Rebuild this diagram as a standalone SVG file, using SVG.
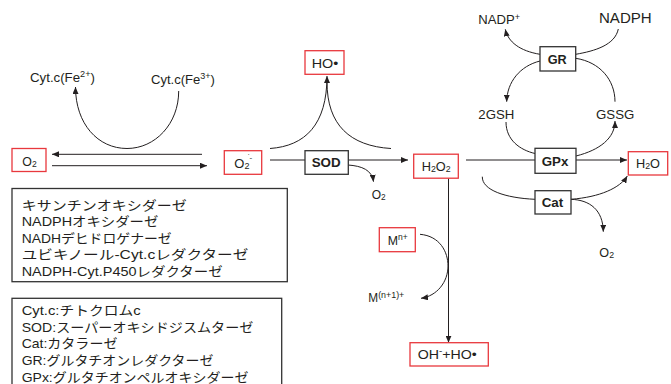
<svg xmlns="http://www.w3.org/2000/svg" width="671" height="384" viewBox="0 0 671 384">
  <defs>
    <style>
      .t { font-family: "Liberation Sans", "Noto Sans CJK JP", sans-serif; font-size: 13px; fill: #231f20; }
      .b { font-weight: bold; }
      .red { fill: #fff; stroke: #e8383d; stroke-width: 1.3; }
      .blk { fill: #fff; stroke: #333; stroke-width: 1.3; }
      .ln { fill: none; stroke: #231f20; stroke-width: 1; }
      .arr { marker-end: url(#ah); }
    </style>
    <marker id="ah" markerUnits="userSpaceOnUse" markerWidth="8" markerHeight="6" refX="7" refY="3" orient="auto">
      <path d="M0,0 L7,3 L0,6 z" fill="#231f20"/>
    </marker>
  </defs>
  <rect width="671" height="384" fill="#fff"/>

  <!-- connectors -->
  <g id="connectors">
    <!-- O2 <-> O2- -->
    <path class="ln arr" d="M202,154.3 H52"/>
    <path class="ln arr" d="M52,165.7 H207"/>
    <!-- cytochrome c loop -->
    <path class="ln arr" d="M178.7,91 C178.7,124 155,148.5 127,148.5 C98,148.5 75.5,124 75.5,87"/>
    <!-- O2- / H2O2 to HO. -->
    <path class="ln arr" d="M270,148.5 C305,146 327,125 327,76"/>
    <path class="ln" d="M391,148.5 C350,146 327,125 327,82"/>
    <!-- SOD -->
    <path class="ln" d="M270,160 H305"/>
    <path class="ln arr" d="M348,160 H408"/>
    <path class="ln arr" d="M348,165 C362,166 372,170 373.5,181.7"/>
    <!-- H2O2 -> GPx -> H2O -->
    <path class="ln" d="M466,160 H535"/>
    <path class="ln arr" d="M576,160 H627"/>
    <!-- glutathione cycle -->
    <path class="ln" d="M506,122 C506,140 520,150 535,153.5"/>
    <path class="ln arr" d="M576,156 C600,150 615,138 615,121"/>
    <path class="ln" d="M615,101.7 C615,80 600,62 575.7,58.3"/>
    <path class="ln arr" d="M540,61 C520,66 507,82 506.7,101.7"/>
    <path class="ln" d="M618.3,29 C615,45 595,51 575.7,54.3"/>
    <path class="ln arr" d="M540,54.3 C520,51 508,42 505.3,29.3"/>
    <!-- catalase -->
    <path class="ln" d="M482.3,176.7 C482,190 505,198 535,199.3"/>
    <path class="ln arr" d="M571,199.3 C600,197 620,188 627.3,176"/>
    <path class="ln arr" d="M571,199.3 C590,200 603,210 603.3,231.7"/>
    <!-- Fenton -->
    <path class="ln arr" d="M448.5,178.3 V342.7"/>
    <path class="ln arr" d="M420,234.3 C440,236 448,252 448,266 C448,282 437,296 421,298.3"/>
  </g>

  <!-- labels without frames -->
  <g id="cytc-red">
    <text class="t" x="30" y="82" textLength="65" lengthAdjust="spacingAndGlyphs">Cyt.c(Fe<tspan font-size="9" dy="-5">2+</tspan><tspan dy="5">)</tspan></text>
  </g>
  <g id="cytc-ox">
    <text class="t" x="151" y="84" textLength="64" lengthAdjust="spacingAndGlyphs">Cyt.c(Fe<tspan font-size="9" dy="-5">3+</tspan><tspan dy="5">)</tspan></text>
  </g>
  <g id="nadp">
    <text class="t" x="478.3" y="24" textLength="41.7" lengthAdjust="spacingAndGlyphs">NADP<tspan font-size="9" dy="-4">+</tspan></text>
  </g>
  <g id="nadph">
    <text class="t" x="599" y="23.3" style="font-size:15px" textLength="52.7" lengthAdjust="spacingAndGlyphs">NADPH</text>
  </g>
  <g id="gsh">
    <text class="t" x="478.3" y="119" textLength="36" lengthAdjust="spacingAndGlyphs">2GSH</text>
  </g>
  <g id="gssg">
    <text class="t" x="596" y="119" textLength="38.3" lengthAdjust="spacingAndGlyphs">GSSG</text>
  </g>
  <g id="o2-sod">
    <text class="t" x="371.7" y="199.3" style="font-size:13px" textLength="14" lengthAdjust="spacingAndGlyphs">O<tspan font-size="9" dy="1">2</tspan></text>
  </g>
  <g id="o2-cat">
    <text class="t" x="599.3" y="256.7" style="font-size:13px" textLength="14.7" lengthAdjust="spacingAndGlyphs">O<tspan font-size="9" dy="1">2</tspan></text>
  </g>
  <g id="m-ox">
    <text class="t" x="368.3" y="301.7" style="font-size:12px" textLength="36" lengthAdjust="spacingAndGlyphs">M<tspan font-size="9" dy="-4">(n+1)+</tspan></text>
  </g>

  <!-- species -->
  <g id="o2">
    <rect class="red" x="12" y="148.5" width="34" height="23"/>
    <text class="t" x="22.3" y="166" textLength="14.4" lengthAdjust="spacingAndGlyphs">O<tspan font-size="9" dy="1">2</tspan></text>
  </g>
  <g id="superoxide">
    <rect class="red" x="224.3" y="150.7" width="37.4" height="23.6"/>
    <text class="t" x="234.3" y="167.5">O<tspan font-size="9" dy="1">2</tspan><tspan font-size="8" dy="-9">-</tspan><tspan font-size="7" dx="-4.5" dy="-2.5">·</tspan></text>
  </g>
  <g id="hydroxyl">
    <rect class="red" x="305" y="50.7" width="39" height="23.6"/>
    <text class="t" x="311.7" y="68.3" textLength="26.6" lengthAdjust="spacingAndGlyphs">HO•</text>
  </g>
  <g id="h2o2">
    <rect class="red" x="413.7" y="154.2" width="44.6" height="24"/>
    <text class="t" x="421.7" y="170.5" textLength="29" lengthAdjust="spacingAndGlyphs">H<tspan font-size="9" dy="1">2</tspan><tspan dy="-1">O</tspan><tspan font-size="9" dy="1">2</tspan></text>
  </g>
  <g id="h2o">
    <rect class="red" x="628.3" y="151.7" width="39.4" height="23.3"/>
    <text class="t" x="636" y="167.5" textLength="24" lengthAdjust="spacingAndGlyphs">H<tspan font-size="9" dy="1">2</tspan><tspan dy="-1">O</tspan></text>
  </g>
  <g id="metal">
    <rect class="red" x="379.3" y="227.7" width="36" height="24"/>
    <text class="t" x="387.7" y="245" textLength="20" lengthAdjust="spacingAndGlyphs">M<tspan font-size="9" dy="-5">n+</tspan></text>
  </g>
  <g id="products">
    <rect class="red" x="410" y="342.7" width="78.3" height="23.3"/>
    <text class="t" x="417.7" y="359.3" textLength="59" lengthAdjust="spacingAndGlyphs">OH<tspan font-size="9" dy="-5">-</tspan><tspan dy="5">+HO•</tspan></text>
  </g>

  <!-- enzymes -->
  <g id="sod">
    <rect class="blk" x="305" y="150.7" width="43.3" height="23.6"/>
    <text class="t b" x="311.7" y="167.3" textLength="29" lengthAdjust="spacingAndGlyphs">SOD</text>
  </g>
  <g id="gpx">
    <rect class="blk" x="535" y="148.3" width="41" height="25"/>
    <text class="t b" x="541.7" y="165.7" textLength="26.6" lengthAdjust="spacingAndGlyphs">GPx</text>
  </g>
  <g id="gr">
    <rect class="blk" x="540" y="46.7" width="35.7" height="24.3"/>
    <text class="t b" x="547.7" y="64" textLength="19" lengthAdjust="spacingAndGlyphs">GR</text>
  </g>
  <g id="cat">
    <rect class="blk" x="535" y="190.7" width="36" height="23.3"/>
    <text class="t b" x="541.7" y="207.3" textLength="21.6" lengthAdjust="spacingAndGlyphs">Cat</text>
  </g>

  <!-- source enzymes list -->
  <g id="sources">
    <rect class="blk" x="12" y="188.5" width="275.3" height="93.2"/>
    <text class="t" x="21.7" y="209.5" textLength="165" lengthAdjust="spacingAndGlyphs">キサンチンオキシダーゼ</text>
    <text class="t" x="21.7" y="226" textLength="136.7" lengthAdjust="spacingAndGlyphs">NADPHオキシダーゼ</text>
    <text class="t" x="21.7" y="242.5" textLength="150" lengthAdjust="spacingAndGlyphs">NADHデヒドロゲナーゼ</text>
    <text class="t" x="21.7" y="259" textLength="226.7" lengthAdjust="spacingAndGlyphs">ユビキノール-Cyt.cレダクターゼ</text>
    <text class="t" x="21.7" y="275.5" textLength="201" lengthAdjust="spacingAndGlyphs">NADPH-Cyt.P450レダクターゼ</text>
  </g>

  <!-- abbreviations -->
  <g id="legend">
    <rect class="blk" x="12" y="298.3" width="269.7" height="95"/>
    <text class="t" x="21.7" y="314.5" textLength="119" lengthAdjust="spacingAndGlyphs">Cyt.c:チトクロムc</text>
    <text class="t" x="21.7" y="331.5" textLength="231.7" lengthAdjust="spacingAndGlyphs">SOD:スーパーオキシドジスムターゼ</text>
    <text class="t" x="21.7" y="348.3" textLength="95.7" lengthAdjust="spacingAndGlyphs">Cat:カタラーゼ</text>
    <text class="t" x="21.7" y="365" textLength="191.7" lengthAdjust="spacingAndGlyphs">GR:グルタチオンレダクターゼ</text>
    <text class="t" x="21.7" y="382" textLength="226.7" lengthAdjust="spacingAndGlyphs">GPx:グルタチオンペルオキシダーゼ</text>
  </g>
</svg>
